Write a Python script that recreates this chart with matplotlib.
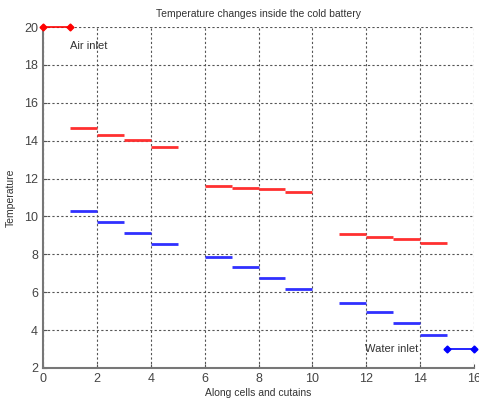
import matplotlib
matplotlib.use("Agg")
import matplotlib.pyplot as plt

# air side (red): one step per cell, start of each cell on the x axis
air_x = [1, 2, 3, 4, 6, 7, 8, 9, 11, 12, 13, 14]
air_t = [14.65, 14.31, 14.02, 13.68, 11.62, 11.52, 11.43, 11.27, 9.06, 8.93, 8.81, 8.61]

# water side (blue)
water_x = [1, 2, 3, 4, 6, 7, 8, 9, 11, 12, 13, 14]
water_t = [10.29, 9.70, 9.14, 8.56, 7.87, 7.34, 6.76, 6.15, 5.44, 4.97, 4.39, 3.74]

# inlets
air_inlet_x = [0, 1]
air_inlet_t = [20, 20]
water_inlet_x = [15, 16]
water_inlet_t = [3, 3]

xticks = [0, 2, 4, 6, 8, 10, 12, 14, 16]
yticks = [2, 4, 6, 8, 10, 12, 14, 16, 18, 20]

plt.rcParams['font.family'] = ['Liberation Sans', 'DejaVu Sans']

fig = plt.figure(figsize=(4.79, 4.07), dpi=100)
ax = fig.add_axes([43 / 479, 1 - 368 / 407, (474 - 43) / 479, (368 - 27) / 407])

# segments, one cell wide each
for x, t in zip(air_x, air_t):
    ax.plot([x, x + 1], [t, t], color='#ff3030', linewidth=2, solid_capstyle='butt')
for x, t in zip(water_x, water_t):
    ax.plot([x, x + 1], [t, t], color='#3030ff', linewidth=2, solid_capstyle='butt')

ax.plot(air_inlet_x, air_inlet_t, color='red', marker='D', markersize=3.5, linewidth=1.2,
        clip_on=False, zorder=5)
ax.plot(water_inlet_x, water_inlet_t, color='blue', marker='D', markersize=3.5, linewidth=1.2,
        clip_on=False, zorder=5)

ax.text(1.0, 19.0, 'Air inlet', fontsize=8, color='#333333', va='center', ha='left')
ax.text(11.95, 3.0, 'Water inlet', fontsize=8, color='#333333', va='center', ha='left')

ax.set_xlim(0, 16)
ax.set_ylim(2, 20)
ax.set_xticks(xticks)
ax.set_yticks(yticks)
ax.tick_params(direction='in', length=3, labelsize=9, colors='#555555', labelcolor='#444444')
ax.grid(True, linestyle=(0, (2, 2)), color='#555555', linewidth=0.8)

for side in ['top', 'right']:
    ax.spines[side].set_visible(False)
for side in ['left', 'bottom']:
    ax.spines[side].set_color('#777777')
    ax.spines[side].set_linewidth(1.5)

ax.set_title('Temperature changes inside the cold battery', fontsize=7.5, color='#333333', pad=7)
ax.set_xlabel('Along cells and cutains', fontsize=7.5, color='#333333', labelpad=2)
ax.set_ylabel('Temperature', fontsize=7.5, color='#333333', labelpad=6)

fig.savefig('out.png', dpi=100)
